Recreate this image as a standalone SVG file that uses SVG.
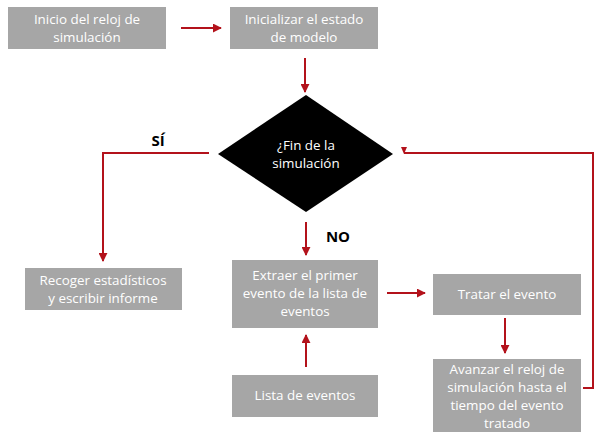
<svg xmlns="http://www.w3.org/2000/svg" width="601" height="440" viewBox="0 0 601 440">
<defs>
<style>
.box{fill:#a6a6a6;}
.t{font-family:"Open Sans","DejaVu Sans",sans-serif;font-size:13.4px;fill:#ffffff;text-anchor:middle;}
.lbl{font-family:"Open Sans","DejaVu Sans",sans-serif;font-size:15px;font-weight:bold;fill:#000000;text-anchor:middle;}
.c{fill:none;stroke:#b3121b;stroke-width:2;}
</style>
<marker id="ah" viewBox="0 0 10 10" refX="9" refY="5" markerWidth="4.5" markerHeight="4.5" orient="auto" markerUnits="strokeWidth">
<path d="M0,0 L10,5 L0,10 z" fill="#b3121b"/>
</marker>
</defs>
<rect width="601" height="440" fill="#ffffff"/>
<g id="n1"><rect class="box" x="8" y="7" width="158" height="42"/>
<text class="t" x="87" y="24">Inicio del reloj de</text><text class="t" x="87" y="42">simulación</text></g>
<g id="n2"><rect class="box" x="230" y="7" width="148" height="42"/>
<text class="t" x="304" y="24">Inicializar el estado</text><text class="t" x="304" y="42">de modelo</text></g>
<g id="n3"><polygon points="306,95 393,154 306,212 218,154" fill="#000000"/>
<text class="t" x="306" y="150">¿Fin de la</text><text class="t" x="306" y="168">simulación</text></g>
<g id="n4"><rect class="box" x="25" y="268" width="157" height="42"/>
<text class="t" x="103" y="285">Recoger estadísticos</text><text class="t" x="103" y="303">y escribir informe</text></g>
<g id="n5"><rect class="box" x="232" y="260" width="146" height="68"/>
<text class="t" x="305" y="280">Extraer el primer</text><text class="t" x="305" y="298">evento de la lista de</text><text class="t" x="305" y="316">eventos</text></g>
<g id="n6"><rect class="box" x="433" y="274" width="148" height="41"/>
<text class="t" x="507" y="299">Tratar el evento</text></g>
<g id="n7"><rect class="box" x="232" y="375" width="146" height="42"/>
<text class="t" x="305" y="400">Lista de eventos</text></g>
<g id="n8"><rect class="box" x="433" y="359" width="148" height="73"/>
<text class="t" x="507" y="374">Avanzar el reloj de</text><text class="t" x="507" y="392">simulación hasta el</text><text class="t" x="507" y="410">tiempo del evento</text><text class="t" x="507" y="428">tratado</text></g>
<g id="connectors">
<line class="c" x1="181" y1="28" x2="221" y2="28" marker-end="url(#ah)"/>
<line class="c" x1="305" y1="58" x2="305" y2="92" marker-end="url(#ah)"/>
<polyline class="c" points="209,153 103,153 103,261" marker-end="url(#ah)"/>
<line class="c" x1="306" y1="222" x2="306" y2="255" marker-end="url(#ah)"/>
<line class="c" x1="387" y1="293" x2="425" y2="293" marker-end="url(#ah)"/>
<line class="c" x1="505" y1="318" x2="505" y2="353" marker-end="url(#ah)"/>
<line class="c" x1="306" y1="367" x2="306" y2="335" marker-end="url(#ah)"/>
<polyline class="c" points="583,388 593,388 593,153 404,153"/>
<polygon points="401,147 407,147 404,154" fill="#b3121b"/>
<text class="lbl" x="158" y="146">SÍ</text>
<text class="lbl" x="338" y="242">NO</text>
</g>
</svg>
